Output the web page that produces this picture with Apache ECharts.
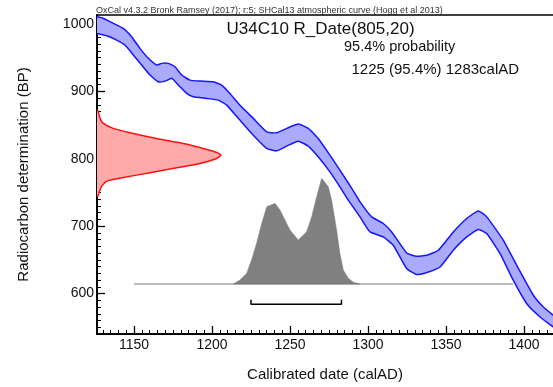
<!DOCTYPE html>
<html><head><meta charset="utf-8">
<script src="https://cdn.jsdelivr.net/npm/echarts@6/dist/echarts.min.js"></script>
<style>html,body{margin:0;padding:0;background:#fff}#c{width:553px;height:387px}</style>
</head><body><div id="c"></div>
<script>
// ---------------- data ----------------
const xMajorTicks = [1150, 1200, 1250, 1300, 1350, 1400];
const yMajorTicks = [600, 700, 800, 900, 1000];
const xRange = [1126.3, 1418.6];
const yRange = [540, 1013.4];

// calibration curve (SHCal13), upper and lower 1-sigma edges [calAD, BP]
const curveUpper = [[1126,1010.8],[1130.3,1008.5],[1136.7,1001],[1143.1,993.6],[1148.5,981.1],[1153.8,963.9],[1159.2,949.1],[1164.6,939.1],[1167.8,941.6],[1172,941.6],[1176.3,936.6],[1180.6,924.3],[1185.9,916.8],[1192.3,915.3],[1200.8,914.3],[1206.2,909.4],[1211.5,897],[1216.9,882.2],[1222.2,869.7],[1226.5,860],[1235.1,840],[1241.5,838.6],[1247.9,845.1],[1255.3,851.5],[1261.7,845.1],[1268.1,830.2],[1275.6,805.4],[1282,783.2],[1289.6,756],[1294.9,736.1],[1302.4,713.8],[1309.8,704],[1315.2,691.5],[1324.8,660.3],[1331.2,655.4],[1337.6,656.9],[1345.1,664.3],[1354.7,691.5],[1363.3,711.4],[1370.7,722.7],[1376.1,713.8],[1386.7,679.2],[1395.3,642.1],[1406,597.5],[1412.4,580.1],[1419,567.5]];
const curveLower = [[1125.6,986.2],[1132.5,982.6],[1138.9,976.2],[1144.2,968.8],[1149.6,954],[1154.9,939.1],[1160.3,924.3],[1165.6,914.3],[1169.9,915.3],[1174.2,919.4],[1178.4,909.4],[1183.8,897],[1188,892],[1196.6,889.6],[1204,887.1],[1209.4,879.7],[1217.9,857.4],[1226.5,835.1],[1235.1,815.4],[1241.5,811.8],[1247.9,818.8],[1255.3,826.2],[1261.7,818.8],[1268.1,802.9],[1275.6,780.6],[1282,758.4],[1287.4,738.6],[1294.9,713.8],[1301.3,691.5],[1309.8,684.1],[1316.2,671.8],[1324.8,637.2],[1331.2,628.3],[1338.7,632.1],[1346.2,639.5],[1354.7,664.3],[1363.3,684.1],[1370.7,695.1],[1376.1,689.1],[1384.6,659.5],[1393.1,619.8],[1401.7,585.2],[1410.3,565.3],[1419,550]];

// radiocarbon measurement R_Date(805,20): BP and relative density
const dateBP      = [873, 869.7, 860, 852.5, 845.1, 838.6, 830.2, 822.8, 815.4, 809.5, 805.4, 800.5, 793.1, 786.6, 779.2, 772.3, 766.8, 759.4, 751, 746.1, 743];
const dateDensity = [0, 0.010, 0.024, 0.051, 0.131, 0.266, 0.481, 0.696, 0.857, 0.965, 1.0, 0.965, 0.831, 0.643, 0.427, 0.212, 0.078, 0.038, 0.019, 0.010, 0];

// calibrated distribution: calAD and relative probability
const calYears = [1213.7,1217.9,1222.2,1225.4,1228.6,1231.9,1235.1,1240.4,1243.6,1246.8,1250,1255.3,1260.7,1263.9,1267.1,1270.3,1274.6,1276.7,1279.9,1282,1284.2,1287.4,1290.6,1294.9];
const calProb  = [0,0.038,0.10,0.23,0.385,0.574,0.731,0.763,0.70,0.605,0.511,0.416,0.495,0.637,0.826,1.0,0.92,0.795,0.511,0.29,0.132,0.054,0.016,0];
const calBaseline = [1150, 1393];

// 95.4% range
const range95 = [1225, 1283];

const headerText = 'OxCal v4.3.2 Bronk Ramsey (2017); r:5; SHCal13 atmospheric curve (Hogg et al 2013)';
const titleText = 'U34C10 R_Date(805,20)';
const probText = '95.4% probability';
const rangeText = '1225 (95.4%) 1283calAD';
const xName = 'Calibrated date (calAD)';
const yName = 'Radiocarbon determination (BP)';

// ---------------- layout / style ----------------
const FONT = '"Liberation Sans", Arial, Helvetica, sans-serif';
const G = {left: 97, right: 0, top: 15, bottom: 53};
const W = 553, H = 387;
const plotW = W - G.left - G.right, plotH = H - G.top - G.bottom;
const redPeakPx = 124;             // width of R_Date density peak
const greyPeakPx = 105.7;          // height of calibrated peak
const greyBasePx = 50;             // baseline height above bottom axis
const bracketBP = 584, bracketTickBP = 591;

const xMinorTicks = []; for (let v = 1130; v <= 1415; v += 5) xMinorTicks.push(v);
const yMinorTicks = []; for (let v = 550; v <= 1010; v += 10) yMinorTicks.push(v);

const chart = echarts.init(document.getElementById('c'), null, {renderer: 'canvas'});

const lbl = {fontFamily: FONT, fontSize: 14, color: '#111', formatter: v => String(v)};

chart.setOption({
  animation: false,
  backgroundColor: '#fff',
  grid: [
    Object.assign({outerBoundsMode: 'none', containLabel: false}, G),
    Object.assign({outerBoundsMode: 'none', containLabel: false}, G)
  ],
  xAxis: [
    {gridIndex: 0, type: 'value', position: 'bottom', min: xRange[0], max: xRange[1],
     axisLine: {show: true, onZero: false, lineStyle: {color: '#000', width: 2}},
     axisTick: {show: true, inside: true, length: 8, customValues: xMajorTicks, lineStyle: {color: '#000', width: 1.3}},
     axisLabel: Object.assign({show: true, margin: 4, customValues: xMajorTicks}, lbl),
     splitLine: {show: false},
     name: xName, nameLocation: 'middle', nameGap: 33,
     nameTextStyle: {fontFamily: FONT, fontSize: 15, color: '#111'}},
    {gridIndex: 0, type: 'value', position: 'top', min: xRange[0], max: xRange[1],
     axisLine: {show: true, onZero: false, lineStyle: {color: '#000', width: 1.5}},
     axisTick: {show: false}, axisLabel: {show: false}, splitLine: {show: false}},
    {gridIndex: 0, type: 'value', min: 0, max: plotW / redPeakPx, show: false},
    {gridIndex: 1, type: 'value', position: 'bottom', min: xRange[0], max: xRange[1],
     axisLine: {show: false, onZero: false},
     axisTick: {show: true, inside: true, length: 4, customValues: xMinorTicks, lineStyle: {color: '#000', width: 1}},
     axisLabel: {show: false}, splitLine: {show: false}}
  ],
  yAxis: [
    {gridIndex: 0, type: 'value', position: 'left', min: yRange[0], max: yRange[1],
     axisLine: {show: true, onZero: false, lineStyle: {color: '#000', width: 2}},
     axisTick: {show: true, inside: true, length: 8, customValues: yMajorTicks, lineStyle: {color: '#000', width: 1.3}},
     axisLabel: Object.assign({show: true, margin: 3, customValues: yMajorTicks}, lbl),
     splitLine: {show: false},
     name: yName, nameLocation: 'middle', nameGap: 66,
     nameTextStyle: {fontFamily: FONT, fontSize: 15, color: '#111'}},
    {gridIndex: 0, type: 'value', min: -greyBasePx / greyPeakPx, max: (plotH - greyBasePx) / greyPeakPx, show: false},
    {gridIndex: 1, type: 'value', position: 'left', min: yRange[0], max: yRange[1],
     axisLine: {show: false, onZero: false},
     axisTick: {show: true, inside: true, length: 4, customValues: yMinorTicks, lineStyle: {color: '#000', width: 1}},
     axisLabel: {show: false}, splitLine: {show: false}}
  ],
  graphic: [
    {type: 'text', x: 96, y: 11, silent: true,
     style: {text: headerText, font: '9px ' + FONT, fill: '#333', align: 'left', verticalAlign: 'middle'}},
    {type: 'text', x: 226.5, y: 29, silent: true,
     style: {text: titleText, font: '17px ' + FONT, fill: '#111', align: 'left', verticalAlign: 'middle'}},
    {type: 'text', x: 344, y: 46.5, silent: true,
     style: {text: probText, font: '14.5px ' + FONT, fill: '#111', align: 'left', verticalAlign: 'middle'}},
    {type: 'text', x: 351.5, y: 70, silent: true,
     style: {text: rangeText, font: '15px ' + FONT, fill: '#111', align: 'left', verticalAlign: 'middle'}}
  ],
  series: [
    // calibrated probability distribution (grey)
    {type: 'custom', coordinateSystem: 'cartesian2d', xAxisIndex: 0, yAxisIndex: 1, clip: true, z: 2,
     data: [[calYears[0], calProb[0]]],
     renderItem: function (params, api) {
       const pts = calYears.map((x, i) => api.coord([x, calProb[i]]));
       return {type: 'polygon', shape: {points: pts}, style: {fill: '#808080', stroke: '#808080', lineWidth: 0.5}};
     }},
    {type: 'line', xAxisIndex: 0, yAxisIndex: 1, z: 2, symbol: 'none', silent: true,
     data: [[calBaseline[0], 0], [calBaseline[1], 0]],
     lineStyle: {color: '#777', width: 1}},
    // calibration curve band
    {type: 'custom', coordinateSystem: 'cartesian2d', xAxisIndex: 0, yAxisIndex: 0, clip: true, z: 3,
     data: [curveUpper[0]],
     renderItem: function (params, api) {
       const up = curveUpper.map(p => api.coord(p));
       const lo = curveLower.map(p => api.coord(p));
       return {type: 'group', children: [
         {type: 'polygon', shape: {points: up.concat(lo.slice().reverse()), smooth: 0.15}, style: {fill: '#aaaaff', stroke: null}},
         {type: 'polyline', shape: {points: up, smooth: 0.15}, style: {stroke: '#1515ff', lineWidth: 1.5, fill: null}},
         {type: 'polyline', shape: {points: lo, smooth: 0.15}, style: {stroke: '#1515ff', lineWidth: 1.5, fill: null}}
       ]};
     }},
    // radiocarbon date (red)
    {type: 'custom', coordinateSystem: 'cartesian2d', xAxisIndex: 2, yAxisIndex: 0, clip: true, z: 3,
     data: [[dateDensity[0], dateBP[0]]],
     renderItem: function (params, api) {
       const pts = dateDensity.map((d, i) => api.coord([d, dateBP[i]]));
       return {type: 'group', children: [
         {type: 'polygon', shape: {points: pts, smooth: 0.15}, style: {fill: '#ffaaaa', stroke: null}},
         {type: 'polyline', shape: {points: pts, smooth: 0.15}, style: {stroke: '#ff1010', lineWidth: 1.5, fill: null}}
       ]};
     }},
    // 95.4% range bracket
    {type: 'line', xAxisIndex: 0, yAxisIndex: 0, z: 4, symbol: 'none', silent: true,
     data: [[range95[0], bracketTickBP], [range95[0], bracketBP], [range95[1], bracketBP], [range95[1], bracketTickBP]],
     lineStyle: {color: '#000', width: 1.5}}
  ]
});
</script></body></html>
